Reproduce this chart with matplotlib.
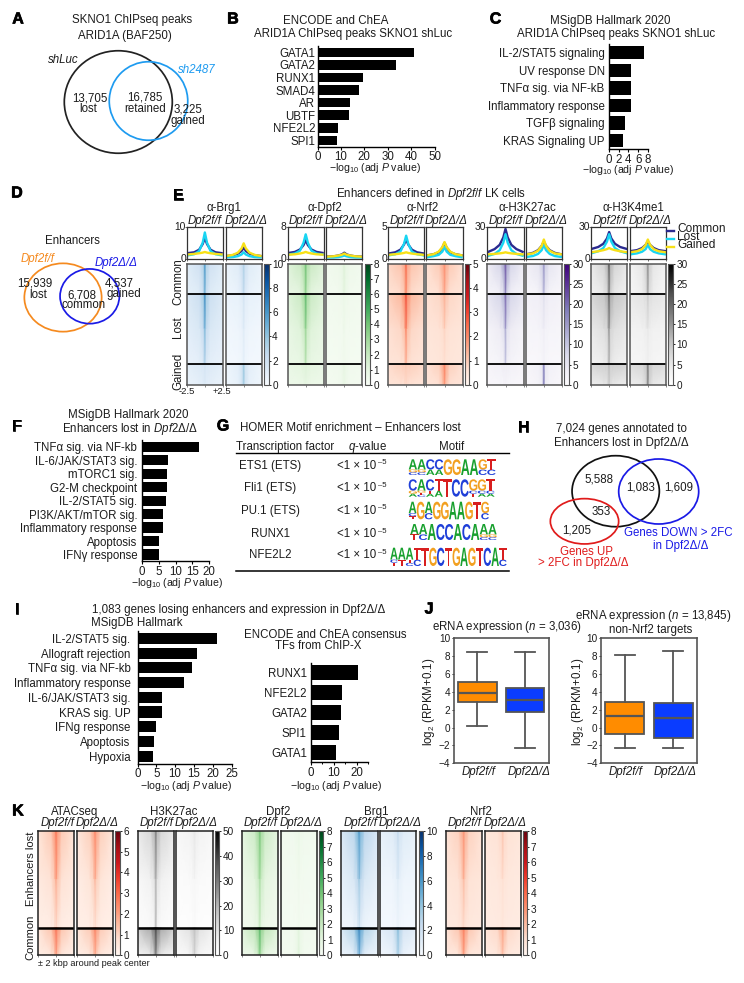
import numpy as np
import matplotlib
matplotlib.use("Agg")
import matplotlib.pyplot as plt
import matplotlib.patheffects as pe
from matplotlib.patches import Ellipse, PathPatch
from matplotlib.textpath import TextPath
from matplotlib.font_manager import FontProperties
from matplotlib.transforms import Affine2D
from matplotlib.cm import ScalarMappable
from matplotlib.colors import Normalize

plt.rcParams['font.family'] = ['Liberation Sans', 'DejaVu Sans']
plt.rcParams['mathtext.fontset'] = 'custom'
plt.rcParams['mathtext.rm'] = 'Liberation Sans'
plt.rcParams['mathtext.it'] = 'Liberation Sans:italic'
plt.rcParams['mathtext.bf'] = 'Liberation Sans:bold'

# ---------- DATA ----------
b_terms = ['GATA1', 'GATA2', 'RUNX1', 'SMAD4', 'AR', 'UBTF', 'NFE2L2', 'SPI1']
b_vals = [41.4, 33.6, 19.5, 17.7, 14, 13.5, 8.6, 8.3]
c_terms = ['IL-2/STAT5 signaling', 'UV response DN', 'TNFα sig. via NF-kB',
           'Inflammatory response', 'TGFβ signaling', 'KRAS Signaling UP']
c_vals = [7.2, 4.5, 4.5, 4.5, 3.3, 2.8]
f_terms = ['TNFα sig. via NF-kb', 'IL-6/JAK/STAT3 sig.', 'mTORC1 sig.', 'G2-M checkpoint',
           'IL-2/STAT5 sig.', 'PI3K/AKT/mTOR sig.', 'Inflammatory response', 'Apoptosis', 'IFNγ response']
f_vals = [17, 7.8, 7.6, 7.5, 7.3, 6.3, 6.2, 5, 5]
i_terms = ['IL-2/STAT5 sig.', 'Allograft rejection', 'TNFα sig. via NF-kb', 'Inflammatory response',
           'IL-6/JAK/STAT3 sig.', 'KRAS sig. UP', 'IFNg response', 'Apoptosis', 'Hypoxia']
i_vals = [21.2, 15.8, 14.5, 12.4, 6.5, 6.5, 4.8, 4.5, 4.2]
i2_terms = ['RUNX1', 'NFE2L2', 'GATA2', 'SPI1', 'GATA1']
i2_vals = [20.5, 13.8, 13, 12.4, 10.8]

j_left_ff = dict(whishi=8.4, q3=5.1, med=3.9, q1=2.85, whislo=0.15)
j_left_dd = dict(whishi=8.45, q3=4.4, med=3.05, q1=1.7, whislo=-2.3)
j_right_ff = dict(whishi=8.1, q3=2.8, med=1.3, q1=-0.75, whislo=-2.3)
j_right_dd = dict(whishi=8.55, q3=2.75, med=1.05, q1=-1.15, whislo=-2.3)

g_names = ['ETS1 (ETS)', 'Fli1 (ETS)', 'PU.1 (ETS)', 'RUNX1', 'NFE2L2']
logo_ets1 = ["CGA", "CGA", "AC", "AC", "G", "G", "A", "A", "CG", "CT"]
logo_fli1 = ["AGC", "CTGA", "ATC", "AT", "T", "C", "C", "TCG", "ACG", "ACT"]
logo_pu1 = ["TCA", "G", "CA", "G", "G", "A", "A", "G", "T", "CG"]
logo_runx1 = ["TA", "CA", "A", "C", "C", "A", "C", "A", "CGA", "CGA"]
logo_nfe2 = ["TCA", "TA", "CTA", "CT", "T", "G", "C", "T", "G", "A", "G", "T", "C", "A", "CT"]

# profile values at distances 2.5, 1.5, 0.8, 0.3, 0 kb from the center (Common, Lost, Gained)
l_brg1_ff = [[1.7, 2.0, 2.8, 4.6, 6.5], [1.0, 1.4, 2.4, 5.0, 8.2], [1.3, 1.5, 1.7, 1.9, 2.1]]
l_brg1_dd = [[0.8, 1.1, 1.6, 2.4, 3.5], [0.4, 0.5, 0.8, 1.3, 2.0], [0.8, 1.2, 1.9, 3.2, 4.8]]
l_dpf2_ff = [[1.4, 1.7, 2.3, 3.4, 4.6], [1.0, 1.3, 2.0, 4.0, 6.1], [1.0, 1.1, 1.3, 1.5, 1.7]]
l_dpf2_dd = [[0.5, 0.6, 0.8, 1.1, 1.5], [0.3, 0.3, 0.4, 0.6, 0.8], [0.5, 0.6, 0.8, 1.0, 1.3]]
l_nrf2_ff = [[0.8, 1.0, 1.4, 2.2, 3.0], [0.5, 0.7, 1.1, 2.3, 3.6], [0.6, 0.7, 0.8, 0.9, 1.0]]
l_nrf2_dd = [[0.5, 0.7, 1.0, 1.7, 2.5], [0.2, 0.4, 0.6, 1.1, 1.8], [0.5, 0.7, 1.1, 1.8, 2.6]]
l_k27_ff = [[6, 9, 13, 20, 28], [2.5, 4.5, 8, 15, 23], [4, 4.5, 5, 5.5, 6]]
l_k27_dd = [[4, 5.5, 8, 12, 16], [1.5, 2.5, 4.5, 8, 13], [4, 5, 7.5, 12, 18]]
l_k4_ff = [[9, 11, 14, 19, 25], [5, 7, 10, 16, 23], [6, 7, 8, 9, 10]]
l_k4_dd = [[7, 8, 10, 13, 16], [4, 5, 6.5, 9, 13], [6, 7, 9, 13, 18]]

# heatmap values: each row is [edge, shoulder, near-center, center]
e_brg1_ff = [[[1.2, 2.0, 3.2, 6.0], [0.8, 1.2, 2.2, 4.5]], [[1.4, 2.2, 3.5, 6.5], [1.0, 1.5, 2.5, 4.5], [0.7, 0.9, 1.4, 2.8]], [[1.0, 1.4, 1.6, 1.9], [0.6, 0.9, 1.0, 1.2]]]
e_brg1_dd = [[[0.7, 1.2, 2.1, 3.4], [0.4, 0.7, 1.3, 2.4]], [[0.6, 0.8, 1.1, 1.9], [0.3, 0.5, 0.7, 1.2], [0.2, 0.3, 0.4, 0.8]], [[0.5, 1.0, 1.8, 3.8], [0.4, 0.8, 1.8, 3.5]]]
e_dpf2_ff = [[[1.2, 1.9, 2.7, 4.2], [0.7, 1.0, 1.8, 3.2]], [[1.2, 1.9, 2.9, 4.6], [0.8, 1.2, 1.9, 3.2], [0.6, 0.8, 1.1, 2.3]], [[0.8, 1.0, 1.2, 1.3], [0.5, 0.6, 0.7, 0.8]]]
e_dpf2_dd = [[[0.3, 0.5, 0.8, 1.3], [0.2, 0.3, 0.6, 1.0]], [[0.3, 0.4, 0.5, 0.6], [0.2, 0.3, 0.3, 0.5], [0.2, 0.2, 0.3, 0.3]], [[0.3, 0.4, 0.6, 0.9], [0.2, 0.3, 0.5, 0.8]]]
e_nrf2_ff = [[[0.8, 1.1, 1.6, 2.6], [0.5, 0.7, 1.1, 1.9]], [[0.9, 1.3, 2.0, 3.0], [0.6, 0.8, 1.2, 2.1], [0.45, 0.55, 0.7, 1.3]], [[0.7, 0.9, 1.0, 1.1], [0.45, 0.55, 0.6, 0.65]]]
e_nrf2_dd = [[[0.6, 1.0, 1.5, 2.1], [0.45, 0.6, 1.0, 1.5]], [[0.6, 0.8, 1.1, 1.6], [0.45, 0.55, 0.65, 0.9], [0.4, 0.45, 0.5, 0.55]], [[0.6, 0.9, 1.5, 2.3], [0.45, 0.6, 1.1, 1.7]]]
e_k27_ff = [[[4, 8, 14, 24], [1.5, 3, 7, 16]], [[5, 8, 12, 22], [2, 4, 6, 14], [1, 2, 3, 10]], [[2, 3, 4, 4], [1, 1.5, 1.5, 2]]]
e_k27_dd = [[[3, 5.5, 9, 16], [1, 2, 4.5, 11]], [[2.5, 3.5, 4.5, 7], [1.5, 2, 2.5, 3.5], [1, 1, 1.5, 2]], [[1.5, 3, 5, 17], [1, 2, 4, 18]]]
e_k4_ff = [[[5, 8, 12, 22], [3, 5, 8, 17]], [[8, 10, 13, 22], [5, 6.5, 8, 15], [3, 4, 5.5, 12]], [[8, 9, 9, 12], [4, 5, 6, 9]]]
e_k4_dd = [[[3, 5.5, 9, 16], [2, 4, 6.5, 13]], [[5, 6, 7, 10], [3, 3.5, 4, 5], [2, 2.5, 3, 3.5]], [[7, 8, 10, 18], [4, 5, 8, 16]]]

k_atac_ff = [[[0.6, 1.2, 2.1, 2.9], [0.4, 0.7, 1.3, 2.0], [0.2, 0.3, 0.5, 0.7]], [[0.6, 1.3, 2.3, 3.1], [0.2, 0.5, 1.1, 1.8]]]
k_atac_dd = [[[0.5, 1.1, 1.9, 2.6], [0.3, 0.6, 1.1, 1.7], [0.2, 0.3, 0.4, 0.5]], [[0.6, 1.2, 2.1, 2.8], [0.2, 0.5, 1.0, 1.6]]]
k_k27_ff = [[[8, 13, 20, 30], [3, 6, 10, 20], [1, 2, 4, 18]], [[15, 22, 32, 40], [4, 8, 15, 26]]]
k_k27_dd = [[[3, 5, 7, 10], [1.5, 2, 3, 4], [1, 1, 1.5, 2]], [[6, 10, 15, 19], [2, 4, 8, 14]]]
k_dpf2_ff = [[[1.0, 1.8, 2.9, 4.0], [0.5, 1.0, 1.8, 2.7], [0.3, 0.5, 0.8, 1.8]], [[1.2, 2.2, 3.4, 4.6], [0.4, 0.8, 1.8, 3.2]]]
k_dpf2_dd = [[[0.3, 0.4, 0.5, 0.7], [0.2, 0.25, 0.3, 0.4], [0.2, 0.2, 0.2, 0.3]], [[0.3, 0.4, 0.6, 1.0], [0.2, 0.3, 0.6, 1.2]]]
k_brg1_ff = [[[1.5, 2.8, 4.5, 6.3], [0.8, 1.5, 2.7, 4.0], [0.3, 0.5, 0.9, 1.6]], [[1.5, 3.2, 5.4, 7.2], [0.5, 1.0, 2.7, 4.5]]]
k_brg1_dd = [[[0.8, 1.2, 1.8, 2.7], [0.4, 0.5, 0.8, 1.2], [0.2, 0.2, 0.3, 0.4]], [[1.0, 1.7, 3.1, 4.5], [0.3, 0.7, 1.8, 3.1]]]
k_nrf2_ff = [[[0.9, 1.4, 2.3, 3.1], [0.7, 0.9, 1.4, 2.2], [0.55, 0.65, 0.75, 0.9]], [[0.9, 1.7, 2.9, 3.7], [0.5, 0.7, 1.5, 2.5]]]
k_nrf2_dd = [[[0.7, 0.9, 1.2, 1.9], [0.55, 0.65, 0.75, 1.0], [0.45, 0.5, 0.55, 0.65]], [[0.8, 1.2, 2.1, 2.7], [0.45, 0.65, 1.1, 1.7]]]

# ---------- HELPERS ----------
W, H = 744, 983
fig = plt.figure(figsize=(W / 100, H / 100), dpi=100)
FS = 8.3
DARK = '#1c1c1c'
GRAY = '#555555'
FF = 'Dpf2f/f'
DD = 'Dpf2Δ/Δ'
XLAB = r'$-$log$_{10}$ (adj $\mathit{P}$ value)'


def axpx(x0, y0, x1, y1, **kw):
    return fig.add_axes([x0 / W, 1 - y1 / H, (x1 - x0) / W, (y1 - y0) / H], **kw)


ov = fig.add_axes([0, 0, 1, 1], zorder=50)
ov.set_xlim(0, W)
ov.set_ylim(H, 0)
ov.axis('off')
ov.patch.set_alpha(0)


def T(x, y, s, size=FS, ha='center', va='center', color=DARK, **kw):
    return ov.text(x, y, s, fontsize=size, ha=ha, va=va, color=color, **kw)


def venn(cx, cy, w, h, color):
    ov.add_patch(Ellipse((cx, cy), w, h, fill=False, ec=color, lw=1.25))


def bars(box, terms, vals, xmax, ticks, pad=2, minor=None):
    ax = axpx(*box)
    y = np.arange(len(vals))
    ax.barh(y, vals, height=0.76, color='black')
    ax.set_ylim(len(vals) - 0.5, -0.5)
    ax.set_xlim(0, xmax)
    ax.set_yticks(y, terms, fontsize=FS, color=DARK)
    ax.set_xticks(ticks)
    ax.set_xticklabels([str(t) for t in ticks], fontsize=FS, color=DARK)
    if minor is not None:
        ax.set_xticks(minor, minor=True)
    ax.tick_params(axis='y', length=0, pad=pad)
    ax.tick_params(axis='x', length=2, width=0.8, pad=1.2)
    ax.tick_params(axis='x', which='minor', length=1.5, width=0.7)
    for s in ('top', 'right'):
        ax.spines[s].set_visible(False)
    for s in ('left', 'bottom'):
        ax.spines[s].set_linewidth(1.0)
    ax.patch.set_alpha(0)
    return ax


OFFS = np.array([-1, -0.3, -0.09, 0, 0.09, 0.3, 1])
LOFFS = np.array([-2.5, -1.5, -0.8, -0.3, 0, 0.3, 0.8, 1.5, 2.5])


def heat(x0, x1, edges, blocks, cmap, vmax, border, sep_lw):
    ax = axpx(x0, edges[0], x1, edges[-1])
    ax.set_xlim(-1, 1)
    ax.set_ylim(edges[-1], edges[0])
    norm = Normalize(0, vmax)
    for b, rows in enumerate(blocks):
        C = np.array([[r[0], r[1], r[2], r[3], r[2], r[1], r[0]] for r in rows], float)
        Y = np.linspace(edges[b], edges[b + 1], len(rows))
        ax.pcolormesh(OFFS, Y, C, shading='gouraud', cmap=cmap, norm=norm, rasterized=True)
    for e in edges[1:-1]:
        ax.axhline(e, color='black', lw=sep_lw)
    ax.set_yticks([])
    ax.set_xticks([-1, 0, 1])
    ax.set_xticklabels([])
    ax.tick_params(axis='x', length=1.5, width=0.5, color=GRAY)
    for s in ax.spines.values():
        s.set_color(border)
        s.set_linewidth(1.1)
    return ax


def cbar(x0, x1, y0, y1, cmap, vmax, ticks, size=7.2):
    cax = axpx(x0, y0, x1, y1)
    cb = fig.colorbar(ScalarMappable(Normalize(0, vmax), cmap), cax=cax)
    cb.set_ticks(ticks)
    cb.ax.tick_params(labelsize=size, length=1.5, width=0.6, pad=1, labelcolor=DARK)
    cb.outline.set_edgecolor(GRAY)
    cb.outline.set_linewidth(0.8)


def profile(x0, x1, y0, y1, series, ymax, show):
    ax = axpx(x0, y0, x1, y1)
    for vals, col in zip(series, ['#2a2a90', '#19d5f2', '#f7e018']):
        v = list(vals) + list(vals[-2::-1])
        ax.plot(LOFFS, v, color=col, lw=1.7, solid_capstyle='butt')
    ax.set_xlim(-2.5, 2.5)
    ax.set_ylim(0, ymax)
    ax.set_xticks([-2.5, 0, 2.5])
    ax.set_xticklabels([])
    ax.set_yticks([0, ymax])
    ax.set_yticklabels([])
    ax.tick_params(length=1.5, width=0.6, color=GRAY)
    if show:
        T(x0 - 1, y1, '0', size=7.4, ha='right')
        T(x0 - 1, y0, str(ymax), size=7.4, ha='right')
    for s in ax.spines.values():
        s.set_color('#333333')
        s.set_linewidth(0.9)


LOGO_COL = {'A': '#18a02e', 'C': '#1f3fd8', 'G': '#f2a020', 'T': '#d81f1f'}
LOGO_FP = FontProperties(family='Liberation Sans', weight='bold')


def logo(x0, x1, y0, y1, stacks):
    w = (x1 - x0) / len(stacks)
    h = y1 - y0
    for i, st in enumerate(stacks):
        n = len(st)
        fr = [1.0] if n == 1 else [0.35 / (n - 1)] * (n - 1) + [0.65]
        bottom = y1
        for ch, f in zip(st, fr):
            tp = TextPath((0, 0), ch, size=10, prop=LOGO_FP)
            bb = tp.get_extents()
            hh = f * h
            tr = Affine2D().translate(-bb.x0, -bb.y0).scale((w * 0.96) / bb.width, -hh / bb.height)\
                .translate(x0 + i * w, bottom)
            ov.add_patch(PathPatch(tr.transform_path(tp), fc=LOGO_COL[ch], ec='none'))
            bottom -= hh


# ---------- PANEL LETTERS ----------
for s, x, y in [('A', 18, 19), ('B', 233, 19), ('C', 495.5, 19), ('D', 17, 193), ('E', 178, 195),
                ('F', 17, 426), ('G', 223, 426), ('H', 523.5, 427), ('I', 17, 609), ('J', 429, 609), ('K', 18, 811)]:
    t = T(x, y, s, size=11.5, fontweight='bold', color='black')
    t.set_path_effects([pe.withStroke(linewidth=0.5, foreground='black')])

# ---------- A ----------
T(132.3, 20, 'SKNO1 ChIPseq peaks')
T(125.3, 36, 'ARID1A (BAF250)')
venn(118.3, 102, 108, 102.5, '#222222')
venn(148.5, 101, 78.5, 78.5, '#1e9bf0')
T(63.3, 60, 'shLuc', style='italic')
T(196.7, 70, 'sh2487', style='italic', color='#1e9bf0')
for x, y, s in [(90, 98.3, '13,705'), (88.3, 109.3, 'lost'), (145, 98, '16,785'), (145.3, 109, 'retained'),
                (187.7, 110, '3,225'), (187.7, 121, 'gained')]:
    T(x, y, s)

# ---------- B, C ----------
T(335.7, 21, 'ENCODE and ChEA')
T(353, 34, 'ARID1A ChIPseq peaks SKNO1 shLuc')
bars((317.5, 46, 434.5, 146.7), b_terms, b_vals, 50, [0, 10, 20, 30, 40, 50], pad=1.5)
T(374.5, 168, XLAB, size=7.6)

T(610.7, 21, 'MSigDB Hallmark 2020')
T(616, 34, 'ARID1A ChIPseq peaks SKNO1 shLuc')
bars((608.8, 44, 648, 149.3), c_terms, c_vals, 8, [0, 2, 4, 6, 8], pad=3)
T(628, 170, XLAB, size=7.6)

# ---------- D ----------
T(72, 241, 'Enhancers')
venn(63, 297.5, 77.3, 68.3, '#f58a1f')
venn(89.7, 296.3, 59.3, 54.7, '#1a1ae6')
T(37.3, 258.7, FF, style='italic', color='#f58a1f')
T(115.7, 263.3, DD, style='italic', color='#1a1ae6')
for x, y, s in [(35, 283, '15,939'), (38.3, 295, 'lost'), (119.3, 283, '4,537'), (124, 294, 'gained'),
                (82.3, 295.3, '6,708'), (83.3, 305.3, 'common')]:
    T(x, y, s)

# ---------- E ----------
T(336, 194.3, r'Enhancers defined in $\mathit{Dpf2f/f}$ LK cells', ha='left')
E_EDGES = [264, 294, 364, 384.7]
e_panels = [
    ('α-Brg1', 224, (187, 222.7), (225.7, 261.7), (264.3, 268.7), 'Blues', 10, 10, range(0, 11, 2),
     l_brg1_ff, l_brg1_dd, e_brg1_ff, e_brg1_dd),
    ('α-Dpf2', 325, (287.7, 323.7), (326.3, 362.3), (365.3, 370), 'Greens', 8, 8, range(0, 9),
     l_dpf2_ff, l_dpf2_dd, e_dpf2_ff, e_dpf2_dd),
    ('α-Nrf2', 422.5, (388, 424.3), (426.3, 462.7), (465, 469.3), 'Reds', 5, 5, range(0, 6),
     l_nrf2_ff, l_nrf2_dd, e_nrf2_ff, e_nrf2_dd),
    ('α-H3K27ac', 527.7, (487.3, 523.7), (525.7, 562), (564.3, 568.7), 'Purples', 30, 30, range(0, 31, 5),
     l_k27_ff, l_k27_dd, e_k27_ff, e_k27_dd),
    ('α-H3K4me1', 633, (591, 627.3), (629.7, 666), (668.3, 672.7), 'Greys', 30, 30, range(0, 31, 5),
     l_k4_ff, l_k4_dd, e_k4_ff, e_k4_dd),
]
for name, xc, L, R, CB, cm, ym, vm, tk, lf, ld, hf, hd in e_panels:
    T(xc, 208.3, name)
    T(sum(L) / 2, 220.7, FF, style='italic')
    T(sum(R) / 2 + 2, 220.7, DD, style='italic')
    profile(L[0], L[1], 226.7, 258.7, lf, ym, True)
    profile(R[0], R[1], 226.7, 258.7, ld, ym, False)
    heat(L[0], L[1], E_EDGES, hf, cm, vm, GRAY, 1.3)
    heat(R[0], R[1], E_EDGES, hd, cm, vm, GRAY, 1.3)
    cbar(CB[0], CB[1], 264, 384.7, cm, vm, list(tk))
for y, s in [(282, 'Common'), (326.7, 'Lost'), (371.7, 'Gained')]:
    T(178.3, y, s, size=8.3, rotation=90)
T(187, 391, '-2.5', size=6.8)
T(221.7, 391, '+2.5', size=6.8)
for y, s, c in [(229, 'Common', '#2a2a90'), (237, 'Lost', '#19d5f2'), (245, 'Gained', '#f7e018')]:
    ov.plot([667, 674], [y + 2, y + 2], color=c, lw=1.7)
    T(677, y, s, size=8.6, ha='left')

# ---------- F ----------
T(128.3, 414.7, 'MSigDB Hallmark 2020')
T(129.7, 428.7, r'Enhancers lost in $\mathit{Dpf2\Delta/\Delta}$')
bars((142, 440, 209, 561.3), f_terms, f_vals, 20, [0, 5, 10, 15, 20], pad=3.5)
T(176.7, 583.3, XLAB, size=7.6)

# ---------- G ----------
T(240, 427.7, 'HOMER Motif enrichment – Enhancers lost', ha='left')
T(236, 446.7, 'Transcription factor', ha='left')
T(368, 446.7, r'$\mathit{q}$-value')
T(452, 446.7, 'Motif')
ov.plot([236, 509.3], [453.3, 453.3], color='black', lw=1)
ov.plot([236, 509.3], [571.3, 571.3], color='black', lw=1.1)
g_rows = [466, 488.3, 510.7, 534.3, 555.3]
for nm, y in zip(g_names, g_rows):
    T(270, y, nm)
    T(336.7, y, '<1 × 10', ha='left')
    T(378.5, y - 3, '–5', size=5.6, ha='left')
logo(408.7, 496, 459.3, 475, logo_ets1)
logo(408.7, 495, 479.3, 496.7, logo_fli1)
logo(408.7, 489.3, 501.7, 519.3, logo_pu1)
logo(410.3, 497, 524, 540, logo_runx1)
logo(390.3, 507, 547.7, 566, logo_nfe2)

# ---------- H ----------
T(621.7, 429, '7,024 genes annotated to')
T(621.7, 443.3, 'Enhancers lost in Dpf2Δ/Δ')
venn(615.7, 491.2, 87.3, 71, '#111111')
venn(658.7, 491.5, 80, 65, '#1a1ae6')
venn(584.5, 521.3, 68.3, 45.3, '#e01b1b')
for x, y, s in [(599, 479.7, '5,588'), (640.3, 487.3, '1,083'), (678.3, 487.3, '1,609'),
                (600.7, 512, '353'), (576.3, 530.7, '1,205')]:
    T(x, y, s)
T(678, 533.3, 'Genes DOWN > 2FC', color='#1a1ae6')
T(680.3, 546, 'in Dpf2Δ/Δ', color='#1a1ae6')
T(586, 552.3, 'Genes UP', color='#e01b1b')
T(583.3, 563.3, '> 2FC in Dpf2Δ/Δ', color='#e01b1b')

# ---------- I ----------
T(92.3, 609.7, '1,083 genes losing enhancers and expression in Dpf2Δ/Δ', ha='left')
T(91.3, 623, 'MSigDB Hallmark', ha='left')
bars((137.5, 631, 231.5, 763.7), i_terms, i_vals, 25, [0, 5, 10, 15, 20, 25], pad=5)
T(186.3, 786, XLAB, size=7.6)
T(325.7, 635.3, 'ENCODE and ChEA consensus')
T(318.3, 646.3, 'TFs from ChIP-X')
bars((311, 663, 368, 762.3), i2_terms, i2_vals, 25, [0, 10, 20], pad=3, minor=[5, 15, 25])
T(335.5, 786, XLAB, size=7.6)


# ---------- J ----------
def boxes(box, s1, s2):
    ax = axpx(*box)
    props = dict(color=GRAY, linewidth=1.3)
    art = ax.bxp([dict(s1, fliers=[]), dict(s2, fliers=[])], positions=[1, 2], widths=0.81, patch_artist=True,
                 showfliers=False, boxprops=dict(edgecolor=GRAY, linewidth=1.3), whiskerprops=props, capprops=props,
                 medianprops=dict(color=GRAY, linewidth=1.6), capwidths=0.42)
    for b, c in zip(art['boxes'], ['#ff8c00', '#0a3cff']):
        b.set_facecolor(c)
    ax.set_xlim(0.51, 2.5)
    ax.set_ylim(-4, 10)
    ax.set_yticks(range(-4, 11, 2))
    ax.set_xticks([])
    ax.tick_params(axis='y', labelsize=7.2, length=1.5, width=0.6, pad=1, labelcolor=DARK)
    for s in ('left', 'top', 'right', 'bottom'):
        ax.spines[s].set_color(GRAY)
        ax.spines[s].set_linewidth(1.2)
    return ax


T(506.7, 627.3, r'eRNA expression ($\mathit{n}$ = 3,036)')
boxes((453.7, 638, 549, 763.3), j_left_ff, j_left_dd)
T(653, 616.3, r'eRNA expression ($\mathit{n}$ = 13,845)')
T(650.3, 630, 'non-Nrf2 targets')
boxes((601, 638, 697.3, 763.3), j_right_ff, j_right_dd)
for x, s in [(429.3, 701.7), (578, 701.7)]:
    T(x, s, r'log$_{2}$ (RPKM+0.1)', size=8.3, rotation=90)
for x, s in [(478.7, FF), (529.3, DD), (625.3, FF), (675.3, DD)]:
    T(x, 771.7, s, style='italic')

# ---------- K ----------
K_EDGES = [831, 927.7, 955.3]
k_panels = [
    ('ATACseq', 74.7, (38.3, 74.3), (77.3, 113.3), (115.3, 120), 'Reds', 6, range(0, 7), k_atac_ff, k_atac_dd),
    ('H3K27ac', 173.3, (137.7, 174), (176.3, 212.7), (215, 219.3), 'Greys', 50, range(0, 51, 10), k_k27_ff, k_k27_dd),
    ('Dpf2', 277.7, (241.7, 278), (280.7, 316.7), (319.3, 323.3), 'Greens', 8, range(0, 9), k_dpf2_ff, k_dpf2_dd),
    ('Brg1', 376, (341, 377.7), (380, 416.3), (418.7, 423), 'Blues', 10, range(0, 11, 2), k_brg1_ff, k_brg1_dd),
    ('Nrf2', 481, (445.7, 481.7), (484.7, 520.7), (523, 527), 'Reds', 8, range(0, 9), k_nrf2_ff, k_nrf2_dd),
]
for name, xc, L, R, CB, cm, vm, tk, hf, hd in k_panels:
    T(xc, 811.7, name)
    T(sum(L) / 2 + 1, 823.3, FF, style='italic')
    T(sum(R) / 2 + 2, 823.3, DD, style='italic')
    heat(L[0], L[1], K_EDGES, hf, cm, vm, '#222222', 1.8)
    heat(R[0], R[1], K_EDGES, hd, cm, vm, '#222222', 1.8)
    cbar(CB[0], CB[1], 831, 955.3, cm, vm, list(tk))
T(30.7, 868.3, 'Enhancers lost', size=8.1, rotation=90)
T(30.7, 937.3, 'Common', size=8.1, rotation=90)
T(38.3, 963.7, '± 2 kbp around peak center', size=6.6, ha='left')

fig.savefig('out.png', dpi=100, facecolor='white')
